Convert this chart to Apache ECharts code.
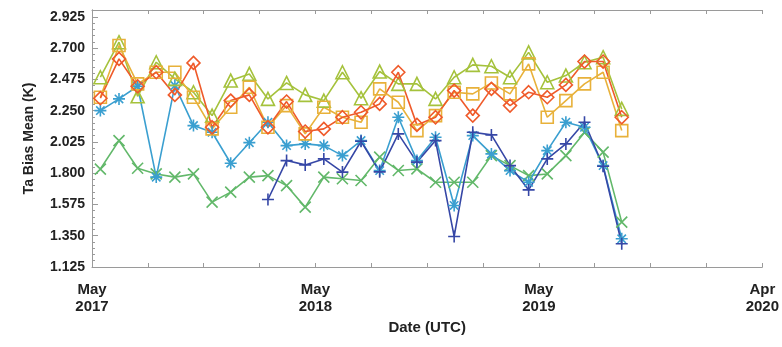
<!DOCTYPE html>
<html>
<head>
<meta charset="utf-8">
<script src="https://cdn.jsdelivr.net/npm/echarts@6/dist/echarts.min.js"></script>
<style>
  html, body { margin: 0; padding: 0; background: #fff; }
  #chart { width: 782px; height: 347px; }
</style>
</head>
<body>
<div id="chart"></div>
<script>
// monthly samples, May 2017 .. Sep 2019
const months = [
  '2017-05', '2017-06', '2017-07', '2017-08', '2017-09', '2017-10', '2017-11', '2017-12',
  '2018-01', '2018-02', '2018-03', '2018-04', '2018-05', '2018-06', '2018-07', '2018-08',
  '2018-09', '2018-10', '2018-11', '2018-12', '2019-01', '2019-02', '2019-03', '2019-04',
  '2019-05', '2019-06', '2019-07', '2019-08', '2019-09'
]
const greenX = [1.83, 2.035, 1.836, 1.795, 1.772, 1.795, 1.592, 1.664, 1.772, 1.783, 1.711, 1.556,
  1.772, 1.76, 1.748, 1.916, 1.82, 1.831, 1.735, 1.735, 1.735, 1.927, 1.855, 1.783,
  1.795, 1.927, 2.094, 1.952, 1.448]
const lightBlueStar = [2.251, 2.335, 2.426, 1.772, 2.431, 2.143, 2.095, 1.872, 2.02, 2.167, 1.999, 2.011,
  1.999, 1.927, 2.035, 1.819, 2.203, 1.891, 2.059, 1.568, 2.071, 1.939, 1.819, 1.735,
  1.963, 2.167, 2.131, 1.855, 1.328]
const darkBluePlus = [null, null, null, null, null, null, null, null, null, 1.611, 1.891, 1.86,
  1.903, 1.808, 2.03, 1.81, 2.083, 1.88, 2.035, 1.345, 2.095, 2.076, 1.855, 1.68,
  1.903, 2.011, 2.167, 1.85, 1.292]
const limeTriangle = [2.491, 2.743, 2.354, 2.599, 2.479, 2.383, 2.215, 2.467, 2.515, 2.335, 2.45, 2.364,
  2.323, 2.527, 2.34, 2.532, 2.443, 2.443, 2.335, 2.491, 2.58, 2.57, 2.491, 2.67,
  2.455, 2.503, 2.599, 2.635, 2.263]
const goldSquare = [2.347, 2.719, 2.443, 2.527, 2.527, 2.347, 2.119, 2.275, 2.419, 2.131, 2.287, 2.083,
  2.275, 2.203, 2.167, 2.407, 2.311, 2.107, 2.215, 2.383, 2.371, 2.45, 2.371, 2.587,
  2.203, 2.323, 2.443, 2.527, 2.107]
const redDiamond = [2.34, 2.623, 2.426, 2.527, 2.364, 2.594, 2.131, 2.323, 2.364, 2.131, 2.316, 2.1,
  2.119, 2.203, 2.239, 2.299, 2.527, 2.148, 2.203, 2.395, 2.215, 2.407, 2.287, 2.383,
  2.347, 2.436, 2.604, 2.604, 2.203]

const yTicks = ['1.125', '1.350', '1.575', '1.800', '2.025', '2.250', '2.475', '2.700', '2.925']
const xTickLabels = { 0: 'May\n2017', 12: 'May\n2018', 24: 'May\n2019', 36: 'Apr\n2020' }

const FONT = 'Liberation Sans'
const AXIS_GREY = '#9a9a9a'

// months since May 2017, points sit mid-month
function monthPos(s) {
  const [y, m] = s.split('-').map(Number)
  return (y - 2017) * 12 + (m - 5) + 0.45
}

const chart = echarts.init(document.getElementById('chart'), null, { renderer: 'canvas' })

function makeSeries(name, values, color, symbol, size) {
  return {
    name,
    type: 'line',
    data: months.map((m, i) => [monthPos(m), values[i]]),
    symbol,
    symbolSize: size,
    showAllSymbol: true,
    connectNulls: false,
    lineStyle: { color, width: 1.6 },
    itemStyle: { color: 'none', borderColor: color, borderWidth: 1.6 },
    emphasis: { disabled: true },
    animation: false
  }
}

const xPath = 'path://M0,0L10,10M10,0L0,10'
const starPath = 'path://M5,0L5,10M0,5L10,5M1.5,1.5L8.5,8.5M8.5,1.5L1.5,8.5'
const plusPath = 'path://M5,0L5,10M0,5L10,5'

const option = {
  backgroundColor: '#fff',
  textStyle: { fontFamily: FONT },
  grid: { left: 92, right: 18, top: 10, bottom: 80 },
  xAxis: [
    {
      type: 'value',
      min: 0,
      max: 36,
      interval: 3,
      name: 'Date (UTC)',
      nameLocation: 'middle',
      nameGap: 52,
      nameTextStyle: { fontFamily: FONT, fontWeight: 'bold', fontSize: 15, color: '#222' },
      axisLine: { show: true, lineStyle: { color: AXIS_GREY, width: 1 } },
      axisTick: { show: true, inside: true, length: 4, lineStyle: { color: AXIS_GREY } },
      axisLabel: {
        formatter: (v) => xTickLabels[v] || '',
        fontFamily: FONT,
        fontWeight: 'bold',
        fontSize: 15,
        color: '#222',
        lineHeight: 17,
        margin: 14
      },
      splitLine: { show: false }
    },
    {
      type: 'value',
      position: 'top',
      min: 0,
      max: 36,
      interval: 3,
      axisLine: { show: true, lineStyle: { color: AXIS_GREY, width: 1 } },
      axisTick: { show: true, inside: true, length: 4, lineStyle: { color: AXIS_GREY } },
      axisLabel: { show: false },
      splitLine: { show: false }
    }
  ],
  yAxis: [
    {
      type: 'value',
      min: 1.125,
      max: 2.975,
      interval: 0.225,
      name: 'Ta Bias Mean (K)',
      nameLocation: 'middle',
      nameGap: 56,
      nameTextStyle: { fontFamily: FONT, fontWeight: 'bold', fontSize: 14, color: '#222' },
      axisLine: { show: true, lineStyle: { color: AXIS_GREY, width: 1 } },
      axisTick: { show: true, inside: true, length: 6, lineStyle: { color: AXIS_GREY } },
      minorTick: { show: true, splitNumber: 5, length: 3, lineStyle: { color: AXIS_GREY } },
      axisLabel: {
        formatter: (v) => {
          const s = v.toFixed(3)
          return yTicks.includes(s) ? s : ''
        },
        showMaxLabel: false,
        fontFamily: FONT,
        fontWeight: 'bold',
        fontSize: 14,
        color: '#222',
        margin: 7
      },
      splitLine: { show: false }
    },
    {
      type: 'value',
      position: 'right',
      min: 1.125,
      max: 2.975,
      interval: 0.225,
      axisLine: { show: true, lineStyle: { color: AXIS_GREY, width: 1 } },
      axisTick: { show: false },
      axisLabel: { show: false },
      splitLine: { show: false }
    }
  ],
  series: [
    makeSeries('green', greenX, '#62b86a', xPath, 11),
    makeSeries('light blue', lightBlueStar, '#3a9fd0', starPath, 12),
    makeSeries('dark blue', darkBluePlus, '#3647a6', plusPath, 12),
    makeSeries('lime', limeTriangle, '#a5c23c', 'triangle', 13),
    makeSeries('gold', goldSquare, '#e8b13a', 'rect', 12),
    makeSeries('red', redDiamond, '#ef5a2a', 'diamond', 13)
  ]
}

chart.setOption(option)
</script>
</body>
</html>
